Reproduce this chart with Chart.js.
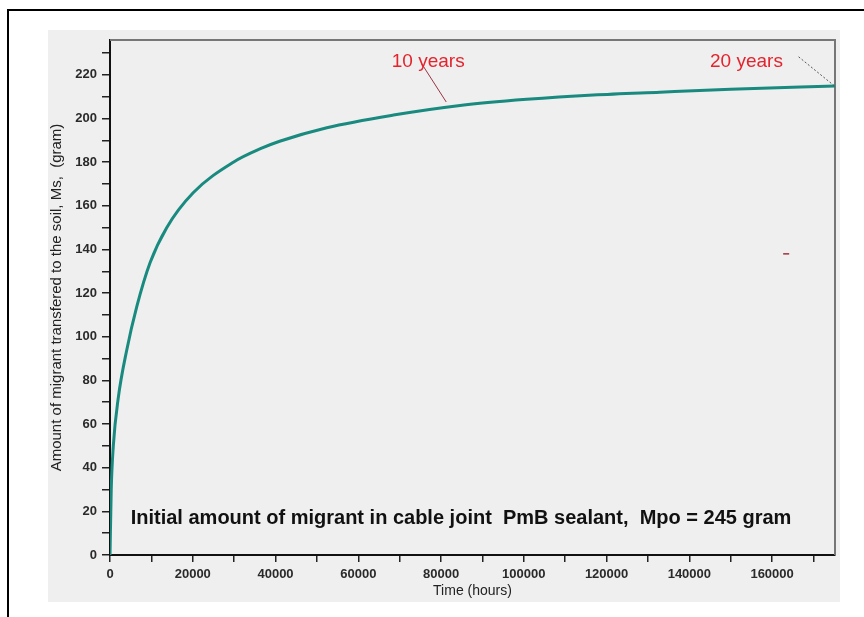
<!DOCTYPE html>
<html>
<head>
<meta charset="utf-8">
<script src="https://cdn.jsdelivr.net/npm/chart.js@4/dist/chart.umd.min.js"></script>
<style>
  body { margin: 0; background: #fff; width: 864px; height: 617px; overflow: hidden; position: relative; font-family: "Liberation Sans", Arial, sans-serif; }
  #frame { position: absolute; left: 7px; top: 9px; width: 900px; height: 700px; border: 2px solid #000; }
  #panel { position: absolute; left: 48px; top: 30px; width: 792px; height: 572px; background: #efefef; }
</style>
</head>
<body>
<div id="frame"></div>
<div id="panel"><canvas id="migrantChart" width="792" height="572"></canvas></div>
<script>
// Time in hours and migrant mass in gram
const hours = [0, 300, 800, 2000, 4000, 6500, 9700, 13700, 20100, 29800, 36500, 41000, 52400, 68500, 84600, 100700, 116800, 132900, 150000, 175200];
const massGram = [0, 30, 50, 72, 93.5, 114, 134, 150, 166, 180, 186.3, 189.6, 195.8, 201.6, 206, 208.8, 210.8, 212.1, 213.4, 214.9];

const xTicks = [0, 10000, 20000, 30000, 40000, 50000, 60000, 70000, 80000, 90000, 100000, 110000, 120000, 130000, 140000, 150000, 160000, 170000];
const xLabels = ["0", "", "20000", "", "40000", "", "60000", "", "80000", "", "100000", "", "120000", "", "140000", "", "160000", ""];
const yTicks = [0, 10, 20, 30, 40, 50, 60, 70, 80, 90, 100, 110, 120, 130, 140, 150, 160, 170, 180, 190, 200, 210, 220, 230];
const yLabels = ["0", "", "20", "", "40", "", "60", "", "80", "", "100", "", "120", "", "140", "", "160", "", "180", "", "200", "", "220", ""];

const xMax = 175200; // 20 years
const yMax = 236;

const yTitle = "Amount of migrant transfered to the soil, Ms,  (gram)";
const xTitle = "Time (hours)";
const noteText = "Initial amount of migrant in cable joint  PmB sealant,  Mpo = 245 gram";

// annotation anchors in data units [hours, gram]
const label10 = { text: "10 years", at: [76900, 226.2], from: [75200, 225.5], to: [81250, 207.6] };
const label20 = { text: "20 years", at: [153800, 226.2], from: [166400, 228.3], to: [175100, 214.9] };
const notePos = [5000, 16.6];
const strayMark = [163400, 138];

const ctx = document.getElementById("migrantChart").getContext("2d");

const annotations = {
  id: "annotations",
  beforeDatasetsDraw(chart) {
    const { ctx, chartArea: a } = chart;
    ctx.save();
    ctx.strokeStyle = "#777";
    ctx.lineWidth = 2;
    ctx.beginPath();
    ctx.moveTo(a.left, a.top);
    ctx.lineTo(a.right, a.top);
    ctx.lineTo(a.right, a.bottom);
    ctx.stroke();
    ctx.restore();
  },
  afterDatasetsDraw(chart) {
    const { ctx } = chart;
    const x = chart.scales.x;
    const y = chart.scales.y;
    const px = (p) => [x.getPixelForValue(p[0]), y.getPixelForValue(p[1])];
    ctx.save();

    // 10 years
    let a = px(label10.from), b = px(label10.to);
    ctx.strokeStyle = "#9a3344";
    ctx.lineWidth = 1;
    ctx.beginPath();
    ctx.moveTo(a[0], a[1]);
    ctx.lineTo(b[0], b[1]);
    ctx.stroke();

    // 20 years
    a = px(label20.from); b = px(label20.to);
    ctx.strokeStyle = "#555";
    ctx.setLineDash([2, 2]);
    ctx.beginPath();
    ctx.moveTo(a[0], a[1]);
    ctx.lineTo(b[0], b[1]);
    ctx.stroke();
    ctx.setLineDash([]);

    // small stray dash
    a = px(strayMark);
    ctx.strokeStyle = "#a0303a";
    ctx.lineWidth = 1.5;
    ctx.beginPath();
    ctx.moveTo(a[0] - 3, a[1]);
    ctx.lineTo(a[0] + 3, a[1]);
    ctx.stroke();

    ctx.fillStyle = "#e5232d";
    ctx.font = "19px 'Liberation Sans', Arial, sans-serif";
    ctx.textAlign = "center";
    ctx.textBaseline = "middle";
    let t = px(label10.at);
    ctx.fillText(label10.text, t[0], t[1]);
    t = px(label20.at);
    ctx.fillText(label20.text, t[0], t[1]);

    ctx.fillStyle = "#111";
    ctx.font = "bold 20px 'Liberation Sans', Arial, sans-serif";
    ctx.textAlign = "left";
    t = px(notePos);
    ctx.fillText(noteText, t[0], t[1]);
    ctx.restore();
  },
};

new Chart(ctx, {
  type: "line",
  data: {
    datasets: [
      {
        data: hours.map((h, i) => ({ x: h, y: massGram[i] })),
        borderColor: "#188a7f",
        borderWidth: 3,
        pointRadius: 0,
        fill: false,
        cubicInterpolationMode: "monotone",
      },
    ],
  },
  options: {
    responsive: false,
    animation: false,
    layout: { padding: { top: 10, right: 5, left: 0, bottom: 0 } },
    plugins: {
      legend: { display: false },
      tooltip: { enabled: false },
    },
    scales: {
      x: {
        type: "linear",
        min: 0,
        max: xMax,
        afterFit: (s) => { s.height = 47; },
        afterBuildTicks: (s) => { s.ticks = xTicks.map((v) => ({ value: v })); },
        border: { display: true, color: "#111", width: 2 },
        grid: { drawOnChartArea: false, tickLength: 7, color: "#222", lineWidth: 1.5 },
        ticks: {
          autoSkip: false,
          maxRotation: 0,
          padding: 5,
          color: "#2a2a2a",
          font: { size: 13, weight: "bold", family: "'Liberation Sans', Arial, sans-serif" },
          callback: (v, i) => xLabels[i],
        },
        title: {
          display: true,
          text: xTitle,
          color: "#222",
          padding: { bottom: 2, top: 0 },
          font: { size: 14, family: "'Liberation Sans', Arial, sans-serif" },
        },
      },
      y: {
        min: 0,
        max: yMax,
        afterFit: (s) => { s.width = 62; },
        afterBuildTicks: (s) => { s.ticks = yTicks.map((v) => ({ value: v })); },
        border: { display: true, color: "#111", width: 2 },
        grid: { drawOnChartArea: false, tickLength: 8, color: "#222", lineWidth: 1.5 },
        ticks: {
          autoSkip: false,
          padding: 5,
          color: "#2a2a2a",
          font: { size: 13, weight: "bold", lineHeight: 0.7, family: "'Liberation Sans', Arial, sans-serif" },
          callback: (v, i) => yLabels[i],
        },
        title: {
          display: true,
          text: yTitle,
          color: "#222",
          padding: { top: 0, bottom: 0 },
          font: { size: 15, family: "'Liberation Sans', Arial, sans-serif" },
        },
      },
    },
  },
  plugins: [annotations],
});
</script>
</body>
</html>
